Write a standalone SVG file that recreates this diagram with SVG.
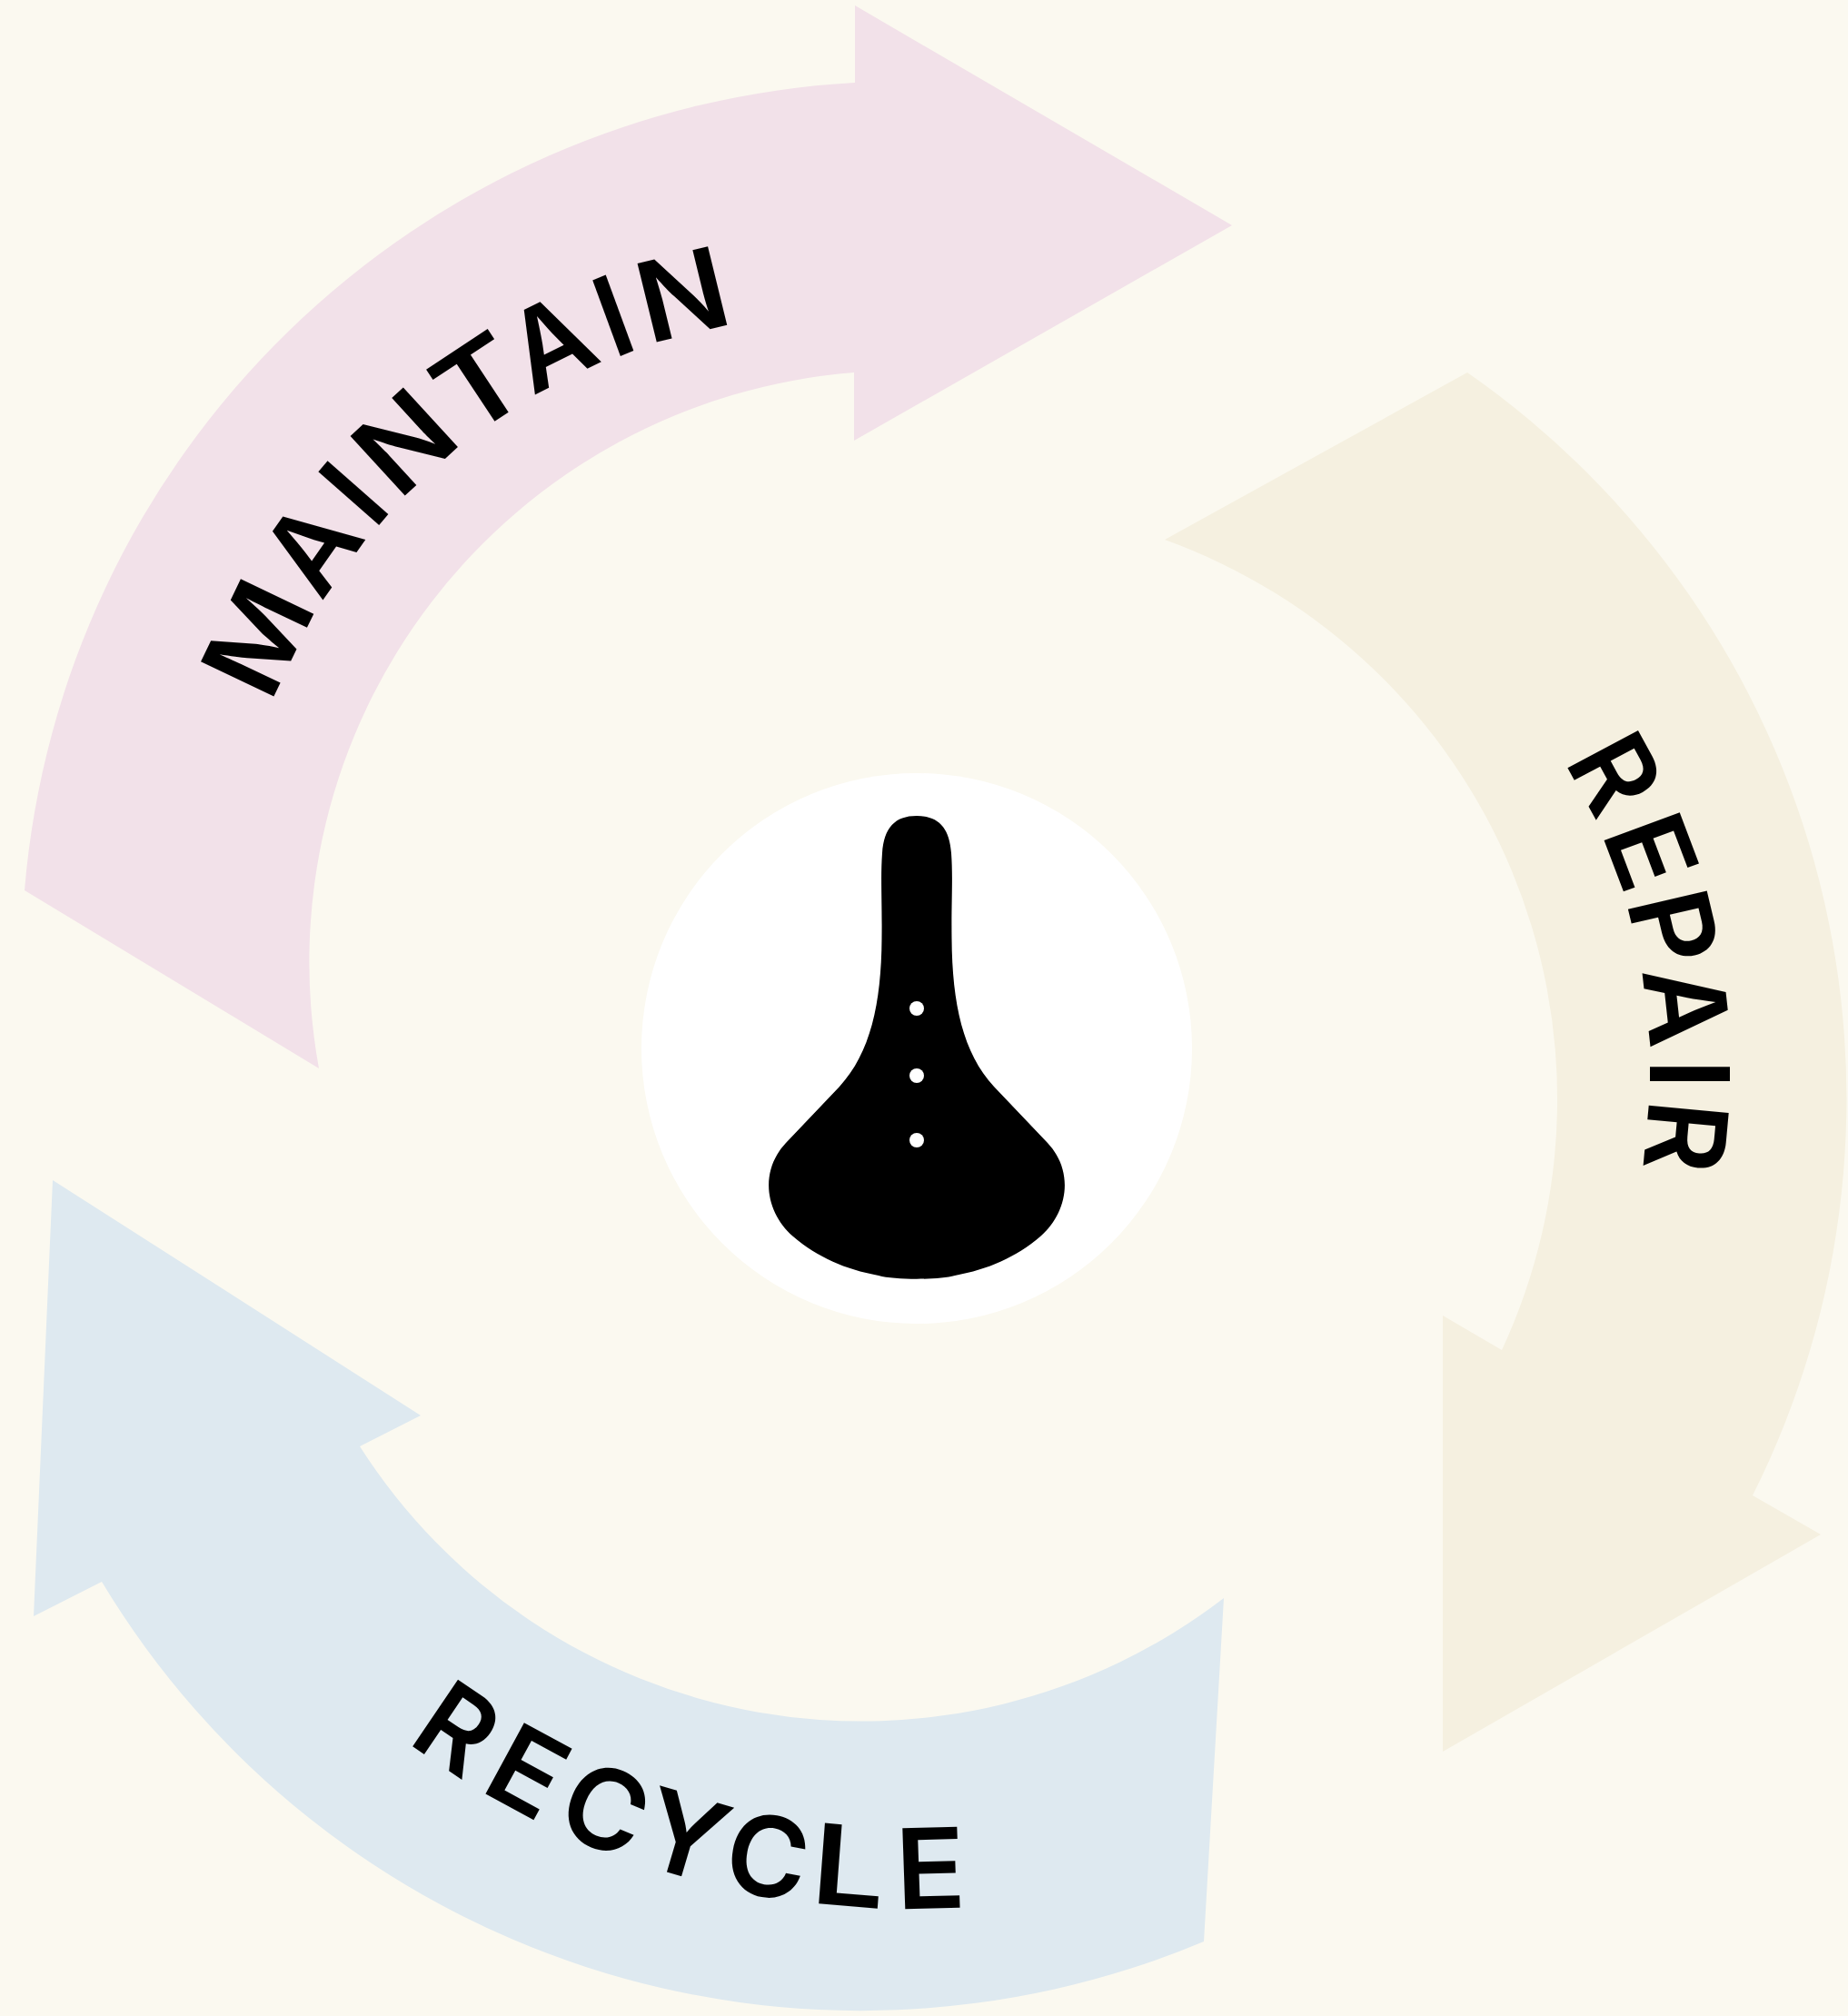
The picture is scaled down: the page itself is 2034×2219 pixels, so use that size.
<svg xmlns="http://www.w3.org/2000/svg" width="2034" height="2219" viewBox="0 0 2034 2219">
<style>
text{font-family:"Inter","Open Sans","Liberation Sans",sans-serif;font-weight:600;font-size:100px;fill:#000;text-anchor:middle}
.hole{fill:#fff}
</style>
<rect id="background" width="2034" height="2219" fill="#fbf9f0"/>
<g id="maintain">
<path fill="#f2e1e9" d="M27 980A971 971 0 0 1 941 91L941 6L1356 248L940 485L940 410A651 651 0 0 0 351 1176Z"/>
<text y="36" transform="matrix(.566 -1.17 1.105 .526 283.5 702)">M</text>
<text y="36" transform="matrix(.69 -.982 1.004 .7 342.7 602)">A</text>
<text y="36" transform="matrix(.78 -.92 .919 .809 389.2 543)">I</text>
<text y="36" transform="matrix(.95 -.873 .826 .903 445.1 486.3)">N</text>
<text y="36" transform="matrix(1.168 -.773 .676 1.021 527.8 422)">T</text>
<text y="36" transform="matrix(1.074 -.534 .542 1.097 605.9 376.9)">A</text>
<text y="36" transform="matrix(1.11 -.452 .421 1.149 674.9 347.6)">I</text>
<text y="36" transform="matrix(1.265 -.306 .291 1.189 751 324.3)">N</text>
</g>
<g id="repair">
<path fill="#f5f0e0" d="M1615 410A974 974 0 0 1 1929 1646L2004 1689L1588 1928L1588 1448L1653 1486A655 655 0 0 0 1282 594Z"/>
<text y="36" transform="matrix(.565 1.036 -1.067 .57 1778 851)">R</text>
<text y="36" transform="matrix(.45 1.187 -1.144 .421 1817 937)">E</text>
<text y="36" transform="matrix(.291 1.215 -1.193 .276 1842 1021)">P</text>
<text y="36" transform="matrix(.132 1.193 -1.218 .129 1856 1107)">A</text>
<text y="36" transform="matrix(0 1.2 -1.21 0 1860 1182)">I</text>
<text y="36" transform="matrix(-.11 1.195 -1.21 -.112 1855.5 1251)">R</text>
</g>
<g id="recycle">
<path fill="#dee9f0" d="M58 1299L463 1558L396 1592A655 655 0 0 0 1347 1759L1325 2137A975 975 0 0 1 112 1741L37 1779Z"/>
<text y="36" transform="matrix(.978 .661 -.685 1.013 503.5 1902.5)">R</text>
<text y="36" transform="matrix(1.116 .606 -.584 1.076 581 1949.6)">E</text>
<text y="36" transform="matrix(1.14 .475 -.471 1.13 666.5 1991)">C</text>
<text y="36" transform="matrix(1.236 .369 -.348 1.175 754.3 2020.5)">Y</text>
<text y="36" transform="matrix(1.2 .227 -.228 1.202 845 2043.3)">C</text>
<text y="36" transform="matrix(1.43 .119 -.092 1.22 934.5 2054)">L</text>
<text y="36" transform="matrix(1.27 -.034 .042 1.224 1024 2056.3)">E</text>
</g>
<g id="saddle-hub">
<circle cx="1009" cy="1154" r="303" fill="#fff"/>
<path fill="#000" d="M1009 898C985 898 973 911 971 939C969 966 971 992 970.5 1033C970 1105 958 1159 924 1196L865 1258C835 1290 843 1335 873 1361C900 1384 930 1397 967 1404C985 1409 1033 1409 1051 1404C1088 1397 1118 1384 1145 1361C1175 1335 1183 1290 1153 1258L1094 1196C1060 1159 1048 1105 1047.5 1033C1047 992 1049 966 1047 939C1045 911 1033 898 1009 898Z"/>
<circle class="hole" cx="1009" cy="1110" r="8"/>
<circle class="hole" cx="1009" cy="1184" r="8"/>
<circle class="hole" cx="1009" cy="1255" r="8"/>
</g>
</svg>
